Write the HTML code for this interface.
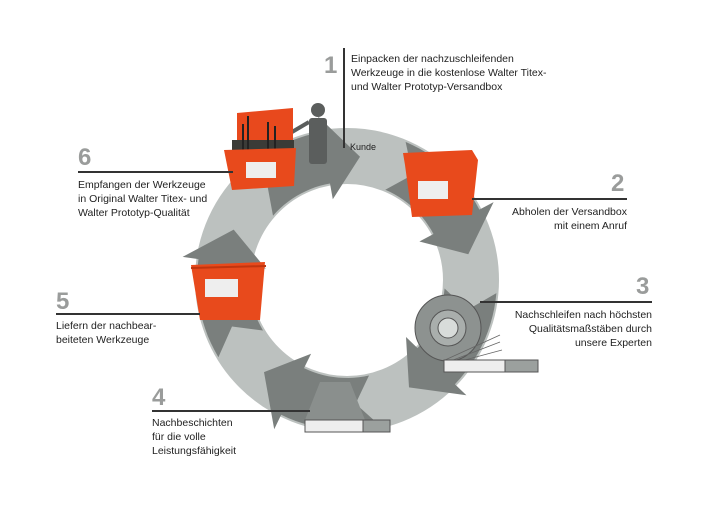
<!DOCTYPE html>
<html><head><meta charset="utf-8"><style>
html,body{margin:0;padding:0;background:#fff}
body{width:709px;height:512px;position:relative;overflow:hidden;font-family:"Liberation Sans Narrow","Liberation Sans",sans-serif;color:#222}
.t{position:absolute;font-size:10.5px;line-height:14px;white-space:nowrap}
.n{position:absolute;font-size:24px;font-weight:bold;color:#9a9c9b;font-family:"Liberation Sans",sans-serif;line-height:24px}
.h{position:absolute;height:2px;background:#333}
.r{text-align:right}
</style></head><body>
<svg id="s" width="709" height="512" style="position:absolute;left:0;top:0">
<circle cx="347" cy="280" r="124" fill="none" stroke="#bcc1bf" stroke-width="56"/>
<g id="arrows" fill="#7a7f7d"></g>
<circle cx="448" cy="328" r="33" fill="#8d9290" stroke="#555" stroke-width="1"/>
<circle cx="448" cy="328" r="18" fill="#a9aeac" stroke="#555" stroke-width="1"/>
<circle cx="448" cy="328" r="10" fill="#d8dcda" stroke="#555"/>
<g stroke="#666" stroke-width="0.8"><line x1="445" y1="360" x2="500" y2="335"/><line x1="448" y1="362" x2="500" y2="342"/><line x1="450" y1="364" x2="502" y2="350"/></g>
<rect x="444" y="360" width="94" height="12" fill="#eee" stroke="#555"/>
<rect x="505" y="360" width="33" height="12" fill="#9ba09e" stroke="#555"/>
<polygon points="320,382 350,382 365,420 305,420" fill="#8a8f8d"/>
<rect x="305" y="420" width="85" height="12" fill="#eee" stroke="#555"/>
<rect x="363" y="420" width="27" height="12" fill="#9ba09e" stroke="#555"/>
<circle cx="318" cy="110" r="7" fill="#5b5e5d"/>
<rect x="309" y="118" width="18" height="46" rx="3" fill="#5b5e5d"/>
<line x1="309" y1="122" x2="292" y2="132" stroke="#5b5e5d" stroke-width="4"/>
<polygon points="237,113 293,108 293,140 237,145" fill="#e8491d"/>
<rect x="232" y="140" width="62" height="15" fill="#3b3b37"/>
<g stroke="#222" stroke-width="2"><line x1="243" y1="124" x2="243" y2="150"/><line x1="248" y1="116" x2="248" y2="150"/><line x1="268" y1="122" x2="268" y2="150"/><line x1="275" y1="126" x2="275" y2="150"/></g>
<polygon points="224,150 296,148 294,186 232,190" fill="#e84a1c"/>
<rect x="246" y="162" width="30" height="16" fill="#eee"/>
<polygon points="403,153 472,150 478,160 472,215 412,217 405,165" fill="#e84a1c"/>
<rect x="418" y="181" width="30" height="18" fill="#eee"/>
<polygon points="191,265 265,262 260,320 200,320" fill="#e84a1c"/>
<rect x="205" y="279" width="33" height="18" fill="#eee"/>
<line x1="191" y1="268" x2="266" y2="266" stroke="#c0350f" stroke-width="2"/>
</svg>
<script>
(function(){
var cx=347,cy=280,R=152,r=96,g=document.getElementById('arrows'),s='';
function p(a,rad){a=a*Math.PI/180;return (cx+rad*Math.cos(a)).toFixed(1)+','+(cy+rad*Math.sin(a)).toFixed(1);}
var tips=[-84,-12,60,132,204];
tips.forEach(function(t){
 var st=t-55,he=t-16,mid=(R+r)/2;
 var pts=[];
 for(var a=st;a<=he;a+=3)pts.push(p(a,R-2));
 pts.push(p(he,R-2));pts.push(p(he,R+14));pts.push(p(t,mid));pts.push(p(he,r-14));
 for(var a=he;a>=st;a-=3)pts.push(p(a,r+2));
 pts.push(p(st+9,mid));
 s+='<polygon points="'+pts.join(' ')+'"/>';
});
g.innerHTML=s;
})();
</script>
<div class="n" style="left:324px;top:54px">1</div>
<div style="position:absolute;left:343px;top:48px;width:2px;height:100px;background:#333"></div>
<div class="t" style="left:351px;top:52px">Einpacken der nachzuschleifenden<br>Werkzeuge in die kostenlose Walter Titex-<br>und Walter Prototyp-Versandbox</div>
<div class="t" style="left:350px;top:140px;font-size:9px">Kunde</div>

<div class="n" style="left:78px;top:146px">6</div>
<div class="h" style="left:78px;top:171px;width:155px"></div>
<div class="t" style="left:78px;top:178px">Empfangen der Werkzeuge<br>in Original Walter Titex- und<br>Walter Prototyp-Qualität</div>

<div class="n" style="left:611px;top:172px">2</div>
<div class="h" style="left:472px;top:198px;width:155px"></div>
<div class="t r" style="right:82px;top:205px">Abholen der Versandbox<br>mit einem Anruf</div>

<div class="n" style="left:636px;top:275px">3</div>
<div class="h" style="left:480px;top:301px;width:172px"></div>
<div class="t r" style="right:57px;top:308px">Nachschleifen nach höchsten<br>Qualitätsmaßstäben durch<br>unsere Experten</div>

<div class="n" style="left:56px;top:290px">5</div>
<div class="h" style="left:56px;top:313px;width:144px"></div>
<div class="t" style="left:56px;top:319px">Liefern der nachbear-<br>beiteten Werkzeuge</div>

<div class="n" style="left:152px;top:386px">4</div>
<div class="h" style="left:152px;top:410px;width:158px"></div>
<div class="t" style="left:152px;top:416px">Nachbeschichten<br>für die volle<br>Leistungsfähigkeit</div>
</body></html>
